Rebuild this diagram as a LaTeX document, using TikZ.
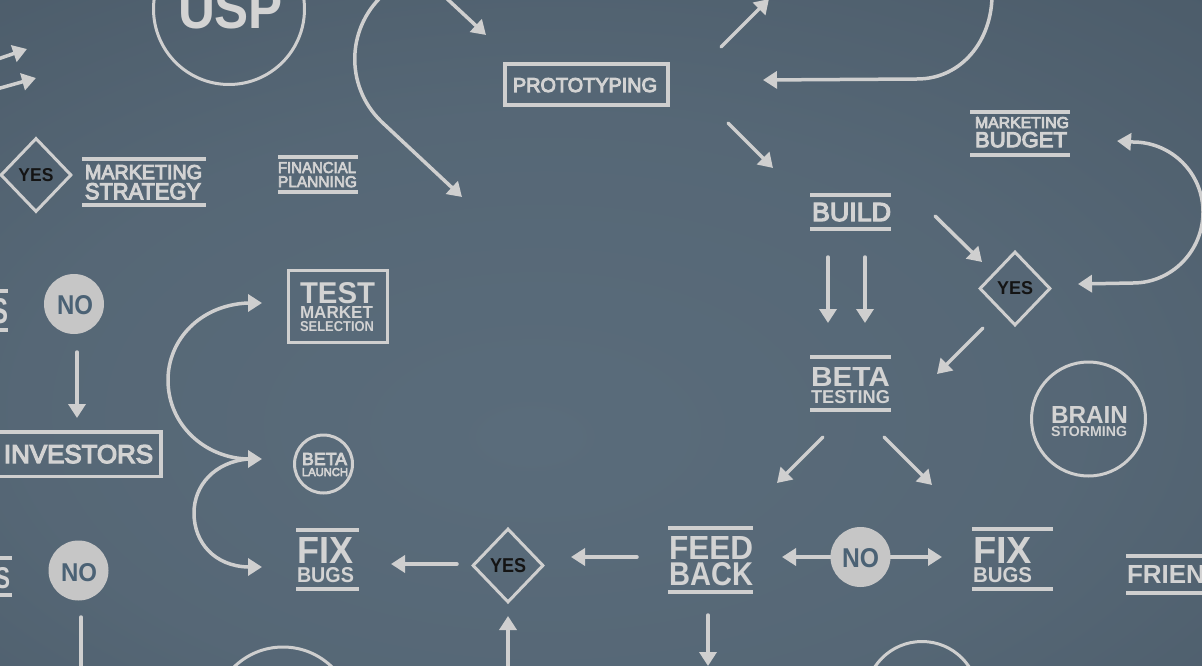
\documentclass[tikz,border=0pt]{standalone}
\usepackage{fontspec}
\setmainfont{Liberation Sans}
\newfontfamily\medf[FakeBold=5]{Liberation Sans}
\newfontfamily\regf[FakeBold=4]{Liberation Sans}
\newfontfamily\hvyf{Liberation Sans Bold}
\usetikzlibrary{arrows.meta,shapes.geometric}
\definecolor{ink}{HTML}{CFCFCF}
\definecolor{txt}{HTML}{D3D3D3}
\definecolor{dark}{HTML}{141414}
\definecolor{nofill}{HTML}{C6C6C6}
\definecolor{notxt}{HTML}{4B6275}
\definecolor{bgin}{HTML}{5A6C7B}
\definecolor{bgmid}{HTML}{4C5C6A}
\definecolor{bgout}{HTML}{3A4652}
\pgfdeclareradialshading{bgshade}{\pgfpoint{-3bp}{-8bp}}{color(0bp)=(bgin); color(22bp)=(bgin!70!bgmid); color(40bp)=(bgmid); color(62bp)=(bgout); color(80bp)=(bgout)}
\newcommand\fit[3]{\resizebox{#1pt}{#2pt}{#3}}
\newcommand\stackII[7]{\vbox{\offinterlineskip\hbox{\fit{#1}{#2}{#3}}\vskip#4pt\hbox{\fit{#5}{#6}{#7}}}}
\tikzset{
  lbl/.style={inner sep=0pt, outer sep=0pt, anchor=north west, text=txt},
  arr/.style={draw=ink, line width=3.5pt, line cap=round, -{Triangle[length=14pt,width=17pt]}},
  darr/.style={draw=ink, line width=3.5pt, {Triangle[length=14pt,width=17pt]}-{Triangle[length=14pt,width=17pt]}},
  plainline/.style={draw=ink, line width=3.5pt, line cap=round},
  bar/.style={draw=ink, line width=3.8pt},
  ring/.style={circle, draw=ink, line width=3pt, inner sep=0pt},
  nodot/.style={circle, fill=nofill, inner sep=0pt, minimum size=60pt},
  yesbox/.style={diamond, draw=ink, line width=3pt, inner sep=0pt, minimum width=71pt, minimum height=74pt, text=dark},
  boxed/.style={draw=ink, line width=3.5pt}
}
\begin{document}
\begin{tikzpicture}[x=1pt,y=-1pt]
\useasboundingbox (0,0) rectangle (1202,666);
\clip (0,0) rectangle (1202,666);
\shade[shading=bgshade] (0,0) rectangle (1202,666);

% ---------- circles ----------
\node[ring, minimum size=151pt] (uspc) at (229,9) {};
\node[lbl] (usp) at (178,-12) {\fit{105}{40}{\hvyf USP}};
\node[ring, minimum size=114pt] (brainc) at (1088.5,419) {};
\node[lbl] (brain) at (1051,406) {\stackII{77}{17}{\hvyf BRAIN}{3}{76}{10}{\hvyf STORMING}};
\node[ring, minimum size=58pt] (launchc) at (323.5,464) {};
\node[lbl] (launch) at (302,453) {\stackII{45}{12}{\medf BETA}{3}{46}{8}{\medf LAUNCH}};
\node[ring, minimum size=140pt] (botc1) at (283,717) {};
\node[ring, minimum size=113pt] (botc2) at (922,698) {};

% ---------- diamonds ----------
\node[yesbox] (yes1) at (36,175) {\fit{35}{13}{\hvyf YES}};
\node[yesbox] (yes2) at (1015,288.5) {\fit{36}{13}{\hvyf YES}};
\node[yesbox] (yes3) at (508,565.5) {\fit{36}{14}{\hvyf YES}};

% ---------- boxes ----------
\draw[boxed] (505,64) rectangle (668,105);
\node[lbl] (proto) at (513,78) {\fit{144}{14}{\medf PROTOTYPING}};
\draw[boxed, line width=3pt] (288.5,270.5) rectangle (387.5,342.5);
\node[lbl] (test) at (300,282) {\vbox{\offinterlineskip\hbox{\fit{75}{21}{\hvyf TEST}}\vskip3pt\hbox{\fit{73}{12}{\hvyf MARKET}}\vskip3pt\hbox{\fit{74}{10}{\hvyf SELECTION}}}};
\draw[boxed] (-10,432) rectangle (161,476.5);
\node[lbl] (invest) at (4,445) {\fit{149}{18}{\medf INVESTORS}};

% ---------- barred labels ----------
\draw[bar] (82,158.8) -- (206,158.8) (82,204.7) -- (206,204.7);
\node[lbl] (mstrat) at (85,165) {\stackII{117}{14}{\medf MARKETING}{4}{116}{16}{\medf STRATEGY}};
\draw[bar, line width=3.5pt] (278,157) -- (358,157) (278,192) -- (358,192);
\node[lbl] (fin) at (278,162) {\stackII{78}{11}{\regf FINANCIAL}{3}{79}{11}{\regf PLANNING}};
\draw[bar] (970,112) -- (1070,112) (970,155.3) -- (1070,155.3);
\node[lbl] (mbud) at (975,117) {\stackII{94}{11}{\medf MARKETING}{4}{92}{15}{\medf BUDGET}};
\draw[bar] (810,194.7) -- (891,194.7) (810,228.7) -- (891,228.7);
\node[lbl] (build) at (812,203) {\fit{79}{18}{\medf BUILD}};
\draw[bar] (810,357) -- (891,357) (810,409.7) -- (891,409.7);
\node[lbl] (betat) at (811,367) {\stackII{79}{19}{\hvyf BETA}{4}{79}{13}{\hvyf TESTING}};
\draw[bar] (972,529) -- (1053,529) (972,589.3) -- (1053,589.3);
\node[lbl] (fix2) at (973,537) {\stackII{59}{26}{\hvyf FIX}{4}{59}{15}{\hvyf BUGS}};
\draw[bar] (1126,555.7) -- (1210,555.7) (1126,592.7) -- (1210,592.7);
\node[lbl] (frien) at (1127,565) {\fit{78}{18}{\hvyf FRIEN}};
\draw[bar] (668,528) -- (753,528) (668,591.7) -- (753,591.7);
\node[lbl] (feed) at (669,536) {\stackII{84}{23}{\hvyf FEED}{3}{84}{23}{\hvyf BACK}};
\draw[bar] (296,530) -- (359,530) (296,589) -- (359,589);
\node[lbl] (fix1) at (297,537) {\stackII{56}{26}{\hvyf FIX}{4}{57}{15}{\hvyf BUGS}};
\draw[bar] (-5,291) -- (8,291) (-5,330) -- (8,330);
\node[lbl] (s1) at (-9,298) {\fit{17}{25}{\hvyf S}};
\draw[bar] (-5,558) -- (12,558) (-5,595) -- (12,595);
\node[lbl] (s2) at (-5,567) {\fit{15}{21}{\hvyf S}};

% ---------- connector end points ----------
\coordinate (a1s) at (-5,60);     \coordinate (a1e) at (27,49);
\coordinate (a2s) at (-5,89.5);   \coordinate (a2e) at (36,78);
\coordinate (c3s) at (383,-5);    \coordinate (c3e) at (462,197);
\coordinate (a4s) at (443,-5);    \coordinate (a4e) at (486,35);
\coordinate (a5s) at (721,47);    \coordinate (a5e) at (769,-1);
\coordinate (c6s) at (992,-5);    \coordinate (c6e) at (763,80);
\coordinate (a7s) at (728,123);   \coordinate (a7e) at (773,168);
\coordinate (a8s) at (935,216);   \coordinate (a8e) at (982,262);
\coordinate (a9s) at (983,328);   \coordinate (a9e) at (937,374);
\coordinate (d1s) at (828,257);   \coordinate (d1e) at (828,323);
\coordinate (d2s) at (865,257);   \coordinate (d2e) at (865,323);
\coordinate (c12s) at (1117,141); \coordinate (c12e) at (1078,284);
\coordinate (b1s) at (823,437);   \coordinate (b1e) at (777,483);
\coordinate (b2s) at (884,437);   \coordinate (b2e) at (932,485);
\coordinate (n2l) at (782,557);   \coordinate (n2r) at (942,557);
\coordinate (f1s) at (708,615);   \coordinate (f1e) at (708,666);
\coordinate (f2s) at (637,557);   \coordinate (f2e) at (571,557);
\coordinate (y3s) at (508,672);   \coordinate (y3e) at (508,616);
\coordinate (y4s) at (457,564);   \coordinate (y4e) at (391,564);
\coordinate (l1s) at (262,303);   \coordinate (l1e) at (262,459);
\coordinate (l2s) at (248,459);   \coordinate (l2e) at (262,567);
\coordinate (n1s) at (77,352);    \coordinate (n1e) at (77,418);
\coordinate (n3s) at (81,617);    \coordinate (n3e) at (81,672);

% ---------- connectors ----------
\draw[arr] (a1s) -- (a1e);
\draw[arr] (a2s) -- (a2e);
\draw[arr] (c3s) .. controls (345,30) and (345,90) .. (385,125) -- (c3e);
\draw[arr] (a4s) -- (a4e);
\draw[arr] (a5s) -- (a5e);
\draw[arr] (c6s) .. controls (992,40) and (962,79) .. (917,79) -- (c6e);
\draw[arr] (a7s) -- (a7e);
\draw[arr] (a8s) -- (a8e);
\draw[arr] (a9s) -- (a9e);
\draw[arr] (d1s) -- (d1e);
\draw[arr] (d2s) -- (d2e);
\draw[darr] (c12s) -- (1133,142) .. controls (1171.7,142) and (1203,173.3) .. (1203,212) .. controls (1203,251) and (1171.7,283) .. (1133,283) -- (c12e);
\draw[arr] (b1s) -- (b1e);
\draw[arr] (b2s) -- (b2e);
\draw[darr] (n2l) -- (n2r);
\draw[arr] (f1s) -- (f1e);
\draw[arr] (f2s) -- (f2e);
\draw[arr] (y3s) -- (y3e);
\draw[arr] (y4s) -- (y4e);
\draw[darr] (l1s) -- (248,303) .. controls (200,305) and (168,340) .. (168,380) .. controls (168,425) and (205,458) .. (248,459) -- (l1e);
\draw[arr] (l2s) .. controls (215,462) and (194,485) .. (194,513) .. controls (194,543) and (215,566) .. (248,567) -- (l2e);
\draw[arr] (n1s) -- (n1e);
\draw[plainline] (n3s) -- (n3e);

% ---------- filled NO circles ----------
\node[nodot] (no1) at (74,304) {};
\node[lbl, text=notxt] (no1t) at (57,295) {\fit{36}{19}{\hvyf NO}};
\node[nodot] (no2) at (860.5,557) {};
\node[lbl, text=notxt] (no2t) at (842,548) {\fit{37}{19}{\hvyf NO}};
\node[nodot] (no3) at (78.5,570.5) {};
\node[lbl, text=notxt] (no3t) at (61,563) {\fit{36}{18}{\hvyf NO}};
\end{tikzpicture}
\end{document}
